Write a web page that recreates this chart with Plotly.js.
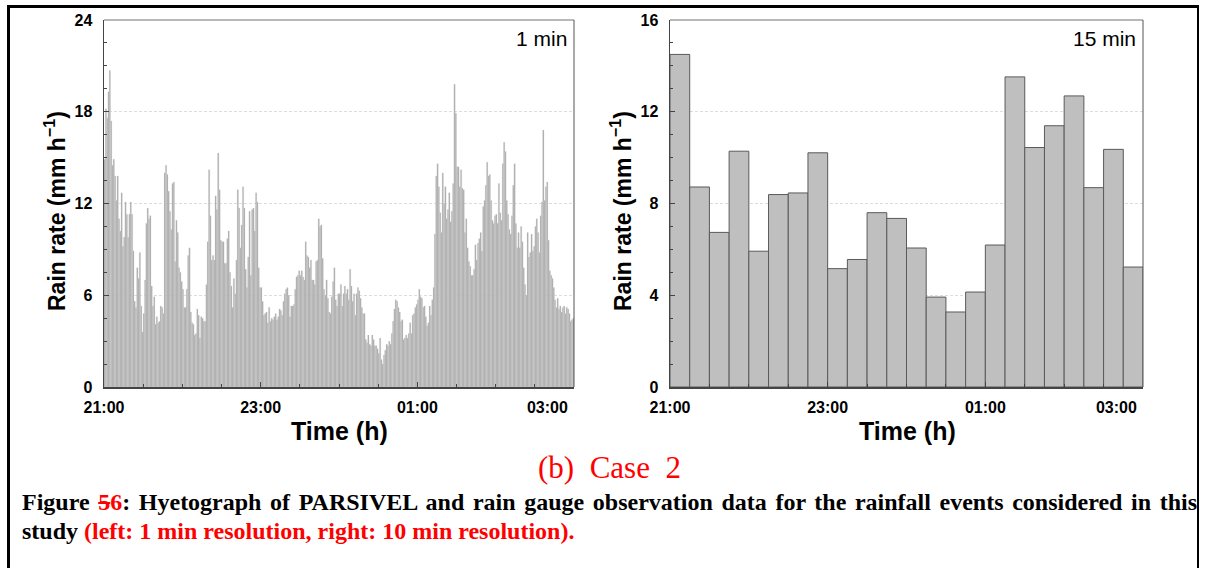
<!DOCTYPE html>
<html>
<head>
<meta charset="utf-8">
<script src="https://cdn.plot.ly/plotly-3.0.1.min.js"></script>
<style>
  html, body { margin:0; padding:0; background:#fff; }
  #wrap { position:relative; width:1205px; height:568px; overflow:hidden; background:#fff; }
  #frame { position:absolute; left:7px; top:5px; width:1187px; height:620px;
           border-top:3px solid #000; border-left:3px solid #000; border-right:2px solid #000; }
  #plot { position:absolute; left:0; top:0; width:1205px; height:568px; }
  #caption { position:absolute; left:22px; top:488px; width:1175px;
             font-family:"Liberation Serif","Times New Roman",serif; font-weight:bold;
             font-size:24px; line-height:29px; color:#000; }
  #caption .l1 { text-align:justify; text-align-last:justify; }
  #caption .l2 { text-align:left; }
  #caption .red { color:#ff0000; }
</style>
</head>
<body>
<div id="wrap">
  <div id="frame"></div>
  <div id="plot"></div>
  <div id="caption"><div class="l1">Figure <span class="red"><s>5</s>6</span>: Hyetograph of PARSIVEL and rain gauge observation data for the rainfall events considered in this</div><div class="l2">study <span class="red">(left: 1 min resolution, right: 10 min resolution).</span></div></div>
</div>
<script>
// ---- data ----
// 1-min rain rate (mm/h), 21:00 -> 03:00 (360 minutes)
const rate1min = [
  14.9, 18.2, 17.6, 19.3, 20.7, 17.4, 14.5, 14.9, 13.8, 12.2,
  13.8, 11.0, 10.2, 12.7, 9.2, 9.8, 12.1, 11.3, 9.8, 11.3, 12.1,
  11.3, 8.9, 5.6, 5.2, 7.8, 7.1, 8.8, 5.3, 3.6, 4.8,
  7.0, 10.7, 11.7, 11.0, 11.2, 6.6, 5.3, 5.9, 4.1, 4.6,
  4.2, 4.3, 5.3, 5.2, 4.8, 14.0, 14.5, 13.9, 12.8, 11.5,
  10.3, 13.3, 13.4, 8.2, 10.9, 10.1, 7.8, 7.5, 6.9, 6.4,
  5.2, 5.2, 6.4, 8.6, 9.1, 4.9, 4.2, 4.1, 3.4, 3.5,
  5.1, 4.7, 3.2, 4.6, 4.5, 4.3, 4.3, 6.7, 9.5, 14.2,
  11.2, 8.3, 8.6, 8.3, 12.5, 11.6, 15.3, 12.9, 9.6, 9.5,
  9.5, 8.1, 8.1, 9.7, 10.2, 7.5, 6.6, 5.2, 7.1, 6.1,
  8.3, 12.9, 11.7, 9.1, 10.6, 13.1, 11.7, 7.7, 6.5, 8.5,
  11.5, 7.3, 11.6, 11.7, 10.2, 12.7, 12.1, 7.8, 6.5, 6.5,
  5.6, 4.7, 4.8, 4.9, 4.2, 5.2, 4.3, 4.5, 4.4, 4.6, 4.8,
  4.4, 4.6, 5.1, 5.0, 4.7, 5.6, 6.1, 6.4, 6.5, 6.0,
  4.6, 5.3, 5.3, 5.4, 6.4, 7.2, 7.3, 7.6, 7.3, 7.6,
  7.2, 7.0, 9.5, 8.6, 8.5, 7.8, 8.3, 7.0, 7.0, 6.7,
  8.2, 8.3, 11.0, 10.5, 10.6, 8.4, 6.4, 6.0, 7.0, 5.8,
  4.9, 4.8, 5.9, 6.9, 7.8, 5.7, 5.3, 6.1, 6.1, 6.7,
  5.3, 6.1, 6.6, 6.1, 6.4, 5.7, 7.7, 6.6, 5.6, 6.1,
  4.7, 6.1, 6.5, 6.3, 5.8, 5.2, 4.8, 4.8, 3.1, 2.9,
  3.4, 2.8, 2.7, 3.4, 3.1, 2.7, 2.7, 2.5, 2.2, 3.2, 1.8,
  1.5, 2.1, 2.4, 2.8, 2.7, 3.0, 2.8, 3.5, 4.3, 5.1,
  5.7, 5.6, 5.2, 4.9, 4.3, 4.4, 3.1, 3.2, 3.4, 3.2,
  3.5, 4.2, 3.5, 4.7, 4.8, 5.2, 5.4, 5.7, 6.4, 5.9,
  5.8, 5.2, 5.3, 4.6, 4.0, 4.2, 5.3, 4.7, 5.7, 6.5,
  10.0, 13.8, 14.6, 13.1, 11.4, 10.1, 14.0, 12.0, 13.1, 11.0,
  11.6, 12.7, 10.8, 11.5, 13.3, 19.8,
  17.9, 14.4, 14.4, 13.1, 14.2, 13.0, 12.9, 10.1, 11.0, 9.1,
  8.2, 7.9, 7.3, 7.3, 7.7, 9.3, 8.3, 9.4, 9.7, 10.1,
  8.9, 11.8, 12.2, 13.2, 14.7, 13.8, 13.9, 12.2, 10.9, 10.7,
  11.2, 11.3, 10.7, 13.3, 11.4, 10.9, 14.6, 16.0, 15.4, 12.2,
  11.3, 10.3, 10.0, 11.2, 13.2, 14.6, 10.7, 9.1, 10.1, 9.1,
  10.5, 9.5, 7.8, 6.7, 6.0, 10.1, 8.5, 8.8, 10.0, 8.9,
  9.2, 10.5, 11.0, 10.1, 8.8, 11.2, 12.1, 16.8, 12.2, 13.1,
  13.4, 9.6, 7.6, 7.3, 7.1, 6.5, 5.7, 5.2, 5.8, 5.1,
  5.3, 4.9, 5.2, 5.3, 4.8, 5.2, 5.1, 4.8, 4.3, 4.4, 4.5
];
// 15-min rain rate (mm/h), 24 intervals
const rate15min = [14.5, 8.72, 6.74, 10.28, 5.92, 8.39, 8.46, 10.21, 5.16, 5.56, 7.6, 7.35,
                   6.06, 3.92, 3.27, 4.14, 6.19, 13.52, 10.44, 11.39, 12.69, 8.69, 10.36, 5.23];
const tickMinutes = [0, 120, 240, 360];
const tickLabels = ['21:00', '23:00', '01:00', '03:00'];
const panelLabels = ['1 min', '15 min'];
const yTitle = 'Rain rate (mm h<sup>\u22121</sup>)';
const xTitle = 'Time (h)';
const subCaption = '(b)\u00A0\u00A0Case\u00A0\u00A02';

// ---- build ----
const x1 = rate1min.map((_, i) => i + 0.5);
const x15 = rate15min.map((_, i) => i * 15 + 7.5);
const W = 1205, H = 568;
const px = v => v / W, py = v => 1 - v / H;
const sans = '"Liberation Sans", Arial, sans-serif';
const lastLabelPad = '\u00A0'.repeat(12);
const tickText = tickLabels.map((t, i) => i === tickLabels.length - 1 ? t + lastLabelPad : t);

const traces = [
  { type:'bar', x:x1, y:rate1min, width:1, xaxis:'x', yaxis:'y',
    marker:{ color:'#a9a9a9', line:{ color:'#d2d2d2', width:0.3 } }, hoverinfo:'skip' },
  { type:'bar', x:x15, y:rate15min, width:15, xaxis:'x2', yaxis:'y2',
    marker:{ color:'#bfbfbf', line:{ color:'#5a5a5a', width:1 } }, hoverinfo:'skip' }
];

function xAxis(dom, anchor) {
  return { domain:dom, anchor:anchor, range:[0, 360], tickmode:'array', tickvals:tickMinutes, ticktext:tickText,
    ticks:'inside', ticklen:5, tickwidth:1, tickcolor:'#444', showline:true, linecolor:'#444', linewidth:1.5,
    zeroline:false, showgrid:false, ticklabelstandoff:5,
    tickfont:{ family:sans, size:16, color:'#000', weight:'bold' },
    minor:{ tickmode:'linear', tick0:0, dtick:30, ticks:'inside', ticklen:3, tickcolor:'#444', showgrid:false },
    fixedrange:true };
}
function yAxis(dom, anchor, top, dt, mdt) {
  return { domain:dom, anchor:anchor, range:[0, top], tickmode:'linear', tick0:0, dtick:dt,
    ticks:'inside', ticklen:5, tickwidth:1, tickcolor:'#444', showline:true, linecolor:'#444', linewidth:1.5,
    zeroline:false, showgrid:true, gridcolor:'#d4d4d4', gridwidth:0.8, griddash:'3px,2px',
    ticklabelstandoff:7,
    tickfont:{ family:sans, size:16, color:'#000', weight:'bold' },
    minor:{ tickmode:'linear', tick0:0, dtick:mdt, ticks:'inside', ticklen:3, tickcolor:'#444', showgrid:false },
    fixedrange:true };
}
const yDom = [py(387), py(20)];
const layout = {
  width:W, height:H, margin:{ l:0, r:0, t:0, b:0 },
  paper_bgcolor:'rgba(0,0,0,0)', plot_bgcolor:'rgba(0,0,0,0)', showlegend:false,
  xaxis: xAxis([px(104), px(574)], 'y'),
  yaxis: yAxis(yDom, 'x', 24, 6, 1.5),
  xaxis2: xAxis([px(670), px(1143)], 'y2'),
  yaxis2: yAxis(yDom, 'x2', 16, 4, 1),
  shapes: [
    { type:'line', xref:'x domain', yref:'y domain', x0:0, x1:1, y0:1, y1:1, line:{ color:'#a0a0a0', width:1.5 } },
    { type:'line', xref:'x domain', yref:'y domain', x0:1, x1:1, y0:0, y1:1, line:{ color:'#555', width:1 } },
    { type:'line', xref:'x2 domain', yref:'y2 domain', x0:0, x1:1, y0:1, y1:1, line:{ color:'#a0a0a0', width:1.5 } },
    { type:'line', xref:'x2 domain', yref:'y2 domain', x0:1, x1:1, y0:0, y1:1, line:{ color:'#555', width:1 } }
  ],
  annotations: [
    { text:panelLabels[0], xref:'paper', yref:'paper', x:px(569), y:py(39), xanchor:'right', yanchor:'middle', showarrow:false,
      font:{ family:sans, size:21, color:'#000' } },
    { text:panelLabels[1], xref:'paper', yref:'paper', x:px(1138), y:py(39), xanchor:'right', yanchor:'middle', showarrow:false,
      font:{ family:sans, size:21, color:'#000' } },
    { text:yTitle, textangle:-90, xref:'paper', yref:'paper', x:px(55), y:py(211), xanchor:'center', yanchor:'middle', showarrow:false,
      font:{ family:sans, size:23, color:'#000', weight:'bold' } },
    { text:yTitle, textangle:-90, xref:'paper', yref:'paper', x:px(621), y:py(211), xanchor:'center', yanchor:'middle', showarrow:false,
      font:{ family:sans, size:23, color:'#000', weight:'bold' } },
    { text:xTitle, xref:'paper', yref:'paper', x:px(339), y:py(431), xanchor:'center', yanchor:'middle', showarrow:false,
      font:{ family:sans, size:25, color:'#000', weight:'bold' } },
    { text:xTitle, xref:'paper', yref:'paper', x:px(907), y:py(431), xanchor:'center', yanchor:'middle', showarrow:false,
      font:{ family:sans, size:25, color:'#000', weight:'bold' } },
    { text:subCaption, xref:'paper', yref:'paper', x:px(609), y:py(467), xanchor:'center', yanchor:'middle', showarrow:false,
      font:{ family:'"Liberation Serif", "Times New Roman", serif', size:31, color:'#ff0000' } }
  ]
};
Plotly.newPlot('plot', traces, layout, { staticPlot:true, displayModeBar:false });
</script>
</body>
</html>
